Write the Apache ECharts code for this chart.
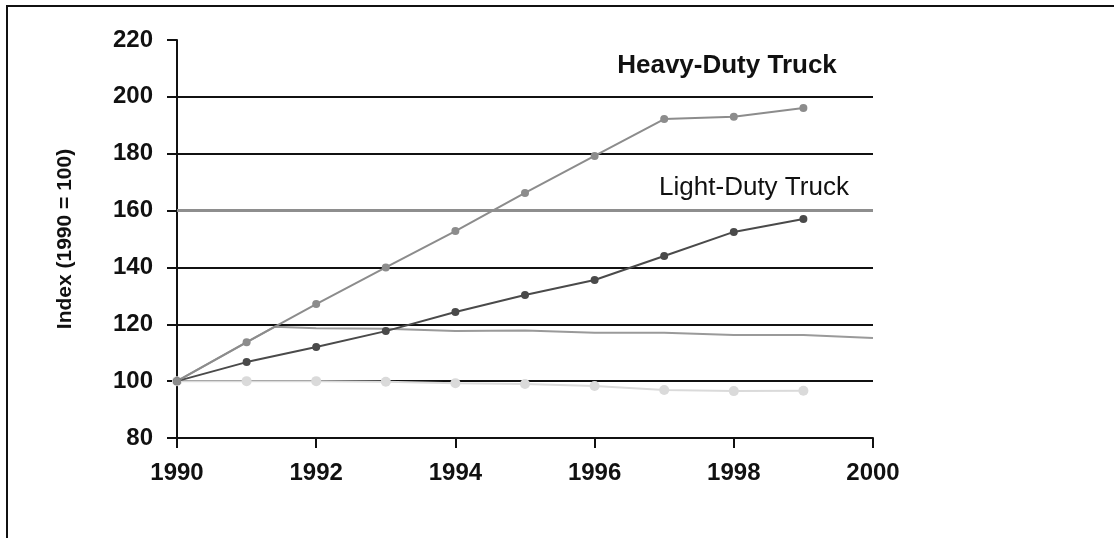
<!DOCTYPE html>
<html>
<head>
<meta charset="utf-8">
<title>Truck index</title>
<script src="https://cdn.jsdelivr.net/npm/echarts@6/dist/echarts.min.js"></script>
<style>
  html, body { margin: 0; padding: 0; background: #fff; }
  #main { width: 1114px; height: 538px; }
</style>
</head>
<body>
<div id="main"></div>
<script>
  // 数据
  const years = [1990, 1991, 1992, 1993, 1994, 1995, 1996, 1997, 1998, 1999];
  const heavyDuty = [100, 113.7, 127.1, 140, 152.8, 166.2, 179.2, 192.2, 193, 196.1];
  const lightDuty = [100, 106.7, 112, 117.6, 124.3, 130.3, 135.6, 144, 152.5, 157];
  const flatYears = [1990, 1991.4, 1992, 1993, 1994, 1995, 1996, 1997, 1998, 1999, 2000];
  const flatLine = [100, 119.1, 118.6, 118.4, 117.6, 117.8, 117, 117, 116.2, 116.2, 115.2];
  const lowYears = [1990, 1991, 1992, 1993, 1994, 1995, 1996, 1997, 1998, 1999];
  const lowLine = [100, 100, 100, 99.8, 99.3, 99, 98.3, 96.9, 96.5, 96.6];
  const refLevel = 160;

  const pairs = (xs, ys) => xs.map((x, i) => [x, ys[i]]);

  const myChart = echarts.init(document.getElementById('main'));

  const labelFont = {
    fontFamily: 'Liberation Sans, Arial, sans-serif',
    fontWeight: 'bold',
    fontSize: 24,
    color: '#111'
  };

  const option = {
    animation: false,
    backgroundColor: '#fff',
    grid: { left: 177, right: 241, top: 40, bottom: 100 },
    xAxis: {
      type: 'value',
      min: 1990,
      max: 2000,
      interval: 2,
      axisLine: { show: true, lineStyle: { color: '#111', width: 2 } },
      axisTick: { show: true, length: 10, lineStyle: { color: '#111', width: 2 } },
      splitLine: { show: false },
      axisLabel: Object.assign({ margin: 23, formatter: (v) => String(v) }, labelFont)
    },
    yAxis: {
      type: 'value',
      min: 80,
      max: 220,
      interval: 20,
      name: 'Index (1990 = 100)',
      nameLocation: 'middle',
      nameGap: 101,
      nameTextStyle: {
        fontFamily: 'Liberation Sans, Arial, sans-serif',
        fontWeight: 'bold',
        fontSize: 21,
        color: '#111'
      },
      axisLine: { show: true, lineStyle: { color: '#111', width: 2 } },
      axisTick: { show: true, length: 10, lineStyle: { color: '#111', width: 2 } },
      splitLine: { show: true, showMaxLine: false, lineStyle: { color: '#111', width: 2 } },
      axisLabel: Object.assign({ margin: 24 }, labelFont)
    },
    series: [
      {
        name: 'Low',
        type: 'line',
        data: pairs(lowYears, lowLine),
        symbol: 'circle',
        symbolSize: 10,
        lineStyle: { color: '#dadada', width: 2 },
        itemStyle: { color: '#dadada' },
        z: 3
      },
      {
        name: 'Flat',
        type: 'line',
        data: pairs(flatYears, flatLine),
        showSymbol: false,
        lineStyle: { color: '#9a9a9a', width: 2 },
        z: 1,
        markLine: {
          silent: true,
          symbol: 'none',
          label: { show: false },
          lineStyle: { color: '#8e8e8e', width: 3, type: 'solid' },
          data: [{ yAxis: refLevel }]
        }
      },
      {
        name: 'Light-Duty Truck',
        type: 'line',
        data: pairs(years, lightDuty),
        symbol: 'circle',
        symbolSize: 8,
        lineStyle: { color: '#4a4a4a', width: 2 },
        itemStyle: { color: '#4a4a4a' },
        z: 4
      },
      {
        name: 'Heavy-Duty Truck',
        type: 'line',
        data: pairs(years, heavyDuty),
        symbol: 'circle',
        symbolSize: 8,
        lineStyle: { color: '#8c8c8c', width: 2 },
        itemStyle: { color: '#8c8c8c' },
        z: 4
      }
    ],
    graphic: [
      // 外框（上边和左边）
      {
        type: 'polyline',
        shape: { points: [[7, 538], [7, 6], [1114, 6]] },
        style: { stroke: '#111', lineWidth: 2, fill: null }
      },
      {
        type: 'text',
        x: 727,
        y: 66,
        style: {
          text: 'Heavy-Duty Truck',
          align: 'center',
          verticalAlign: 'middle',
          fontFamily: 'Liberation Sans, Arial, sans-serif',
          fontWeight: 'bold',
          fontSize: 26,
          fill: '#111'
        }
      },
      {
        type: 'text',
        x: 754,
        y: 188,
        style: {
          text: 'Light-Duty Truck',
          align: 'center',
          verticalAlign: 'middle',
          fontFamily: 'Liberation Sans, Arial, sans-serif',
          fontWeight: 'normal',
          fontSize: 26,
          fill: '#111'
        }
      }
    ]
  };

  myChart.setOption(option);
</script>
</body>
</html>
